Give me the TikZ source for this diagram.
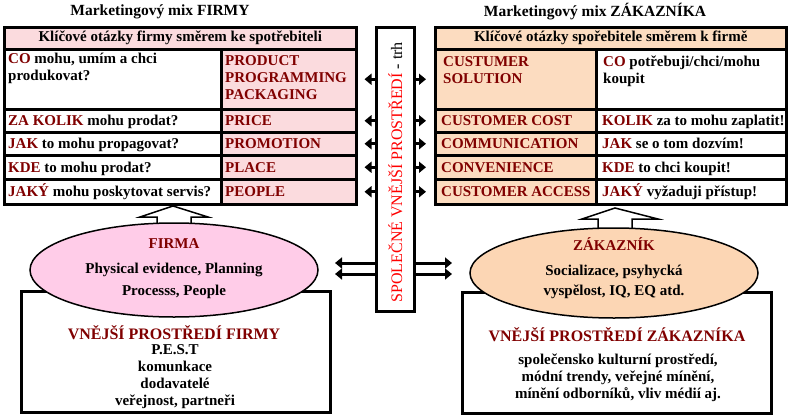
\documentclass[tikz,border=0pt]{standalone}
\usepackage{fontspec}
\setmainfont{Liberation Serif}
\usetikzlibrary{shapes.geometric,arrows.meta}
\definecolor{maroon}{RGB}{128,0,0}
\definecolor{firmpink}{RGB}{251,219,222}
\definecolor{custpeach}{RGB}{252,220,192}
\definecolor{ellpink}{RGB}{255,204,232}
\definecolor{ellpeach}{RGB}{252,214,180}

\begin{document}
\begin{tikzpicture}[x=1pt,y=-1pt,
  cell/.style={draw,line width=2.5pt,anchor=north west,inner sep=0pt},
  txt/.style={font=\fontsize{15}{17}\selectfont\bfseries,inner sep=0pt},
  rowtxt/.style={txt,anchor=west,text height=11pt,text depth=1pt},
  link/.style={line width=3pt,-{Triangle[length=7pt,width=11pt]}},
  oval/.style={ellipse,draw,line width=1.5pt,inner sep=0pt,minimum width=288pt,minimum height=94pt},
  envbox/.style={draw,line width=2.5pt,anchor=north west,minimum width=309pt,minimum height=121pt},
  blockup/.style={draw,line width=1.5pt,fill=white,line join=miter}
]
\useasboundingbox (0,0) rectangle (788,418);

% titles
\node[txt,font=\fontsize{15.5}{17}\selectfont\bfseries] (tfirm) at (160,12) {Marketingový mix FIRMY};
\node[txt,font=\fontsize{15.5}{17}\selectfont\bfseries] (tcust) at (595,12) {Marketingový mix ZÁKAZNÍKA};

% middle column - trh
\node[draw,line width=2.5pt,anchor=north west,minimum width=38pt,minimum height=284pt] (trh) at (375,26) {};
\node[rotate=90,font=\fontsize{16}{18}\selectfont] at ([yshift=-3pt]trh.center) {\textcolor{red}{SPOLEČNÉ VNĚJŠÍ PROSTŘEDÍ} - trh};

% left table
\node[cell,fill=firmpink,minimum width=352pt,minimum height=22pt] (lhead) at (3,26) {};
\node[txt] at (lhead.center) {Klíčové otázky firmy směrem ke spotřebiteli};
\node[cell,fill=white,minimum width=217pt,minimum height=60pt] (lq1) at (3,48) {};
\node[cell,fill=firmpink,minimum width=135pt,minimum height=60pt] (lp1) at (220,48) {};
\node[txt,anchor=north west,align=left] at (8,53) {\textcolor{maroon}{CO} mohu, umím a chci\\ produkovat?};
\node[txt,anchor=north west,align=left,maroon] at (225,55) {PRODUCT\\PROGRAMMING\\PACKAGING};

% right table
\node[cell,fill=custpeach,minimum width=351pt,minimum height=22pt] (rhead) at (434,26) {};
\node[txt] at (rhead.center) {Klíčové otázky spořebitele směrem k firmě};
\node[cell,fill=custpeach,minimum width=161pt,minimum height=60pt] (rc1) at (434,48) {};
\node[cell,fill=white,minimum width=190pt,minimum height=60pt] (ra1) at (595,48) {};
\node[txt,anchor=north west,align=left,maroon] at (443,56) {CUSTUMER\\SOLUTION};
\node[txt,anchor=north west,align=left] at (603,56) {\textcolor{maroon}{CO} potřebuji/chci/mohu\\koupit};

% rows 2-5
\foreach \y/\h/\n/\q/\p/\c/\a in {
  108/23pt/2/{\textcolor{maroon}{ZA KOLIK} mohu prodat?}/PRICE/CUSTOMER COST/{\textcolor{maroon}{KOLIK} za to mohu zaplatit!},
  131/23pt/3/{\textcolor{maroon}{JAK} to mohu propagovat?}/PROMOTION/COMMUNICATION/{\textcolor{maroon}{JAK} se o tom dozvím!},
  154/24pt/4/{\textcolor{maroon}{KDE} to mohu prodat?}/PLACE/CONVENIENCE/{\textcolor{maroon}{KDE} to chci koupit!},
  178/25pt/5/{\textcolor{maroon}{JAKÝ} mohu poskytovat servis?}/PEOPLE/CUSTOMER ACCESS/{\textcolor{maroon}{JAKÝ} vyžaduji přístup!}}
{
  \node[cell,fill=white,minimum width=217pt,minimum height=\h] (lq\n) at (3,\y) {};
  \node[cell,fill=firmpink,minimum width=135pt,minimum height=\h] (lp\n) at (220,\y) {};
  \node[cell,fill=custpeach,minimum width=161pt,minimum height=\h] (rc\n) at (434,\y) {};
  \node[cell,fill=white,minimum width=190pt,minimum height=\h] (ra\n) at (595,\y) {};
  \node[rowtxt] at ([xshift=5pt]lq\n.west) {\q};
  \node[rowtxt,maroon] at ([xshift=5pt]lp\n.west) {\p};
  \node[rowtxt,maroon] at ([xshift=7pt]rc\n.west) {\c};
  \node[rowtxt] at ([xshift=7pt]ra\n.west) {\a};
}

% arrows out of the market
\foreach \n in {1,...,5}{
  \draw[link,shorten >=7pt] (trh.west |- lp\n.east) -- (lp\n.east);
  \draw[link,shorten >=8pt] (trh.east |- rc\n.west) -- (rc\n.west);
}
\coordinate (fin1) at (335,263);
\coordinate (fin2) at (335,274);
\coordinate (cin1) at (452,263);
\coordinate (cin2) at (452,274);
\draw[link] (trh.west |- fin1) -- (fin1);
\draw[link] (trh.west |- fin2) -- (fin2);
\draw[link] (trh.east |- cin1) -- (cin1);
\draw[link] (trh.east |- cin2) -- (cin2);

% environment boxes
\node[envbox] (fenv) at (20,290) {};
\node[envbox] (cenv) at (461,291) {};
\node[txt,font=\fontsize{16}{18}\selectfont\bfseries,maroon] at (174,333) {VNĚJŠÍ PROSTŘEDÍ FIRMY};
\node[txt,align=center,anchor=north] at (175,344) {P.E.S.T\\komunkace\\dodavatelé\\veřejnost, partneři};
\node[txt,font=\fontsize{16}{18}\selectfont\bfseries,maroon] at (617,335) {VNĚJŠÍ PROSTŘEDÍ ZÁKAZNÍKA};
\node[txt,align=center,anchor=north] at (618,354) {společensko kulturní prostředí,\\módní trendy, veřejné mínění,\\mínění odborníků, vliv médií aj.};

% up arrows into the mix
\draw[blockup] (140,217) -- (173,206) -- (208,217) -- (191,217) -- (191,235) -- (157,235) -- (157,217) -- cycle;
\draw[blockup] (582,219) -- (615,208) -- (658,219) -- (632,219) -- (632,237) -- (598,237) -- (598,219) -- cycle;

% firm and customer
\node[oval,fill=ellpink] (firma) at (174,270) {};
\node[txt,align=center,anchor=north] at (firma.center |- 0,238) {\textcolor{maroon}{FIRMA}\\[8pt]Physical evidence, Planning\\[5pt]Processs, People};
\node[oval,fill=ellpeach,minimum height=90pt] (zak) at (614,273) {};
\node[txt,align=center,anchor=north] at (zak.center |- 0,237) {\textcolor{maroon}{ZÁKAZNÍK}\\[8pt]Socializace, psyhycká\\[3pt]vyspělost, IQ, EQ atd.};
\end{tikzpicture}
\end{document}
